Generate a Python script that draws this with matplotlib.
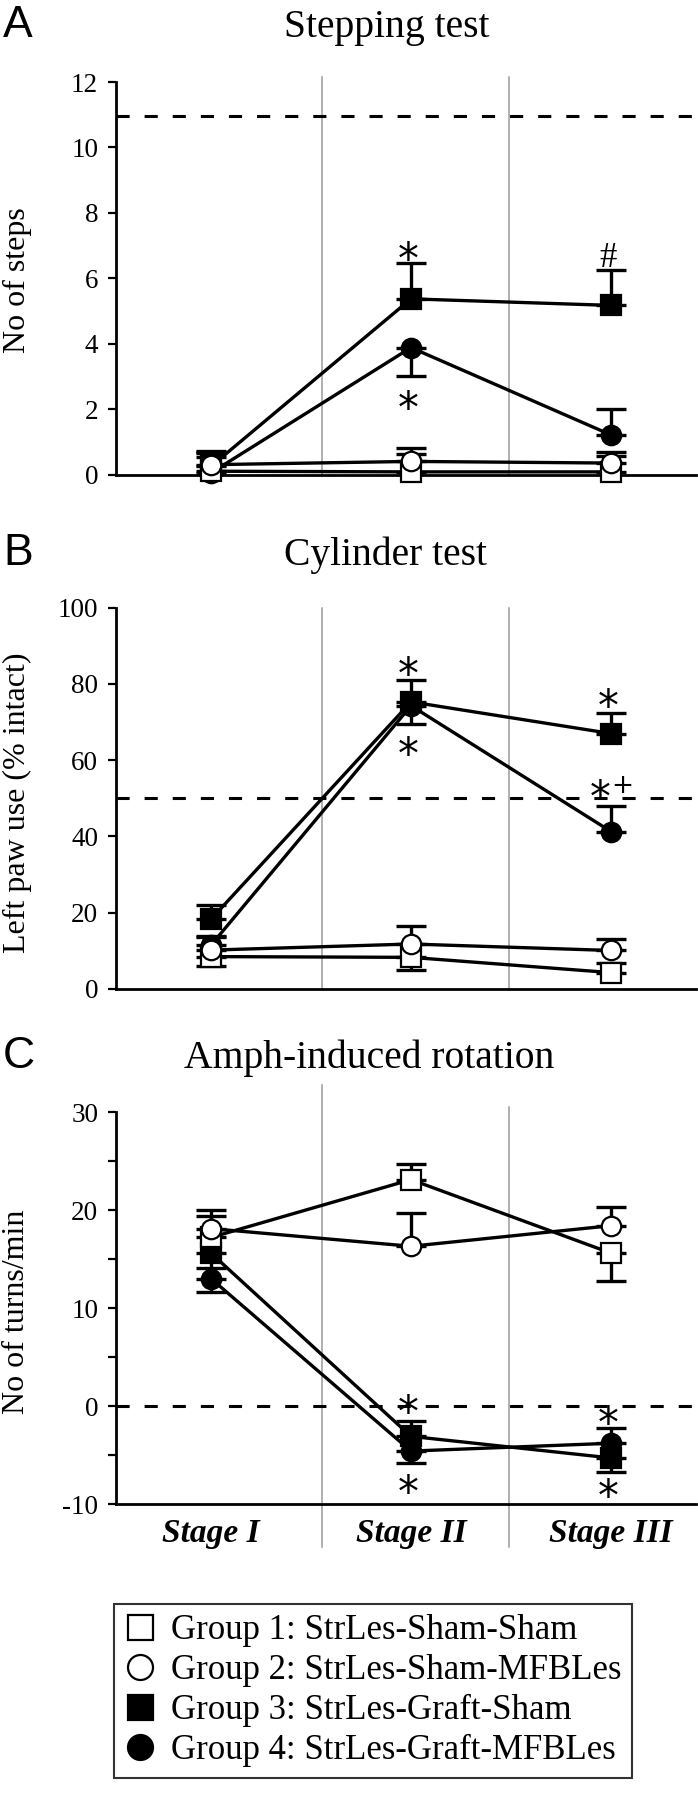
import numpy as np
import matplotlib.pyplot as plt
from matplotlib.lines import Line2D

plt.rcParams['font.family'] = 'Liberation Serif'
plt.rcParams['axes.unicode_minus'] = False

stages = ['Stage I', 'Stage II', 'Stage III']
groups = ['Group 1: StrLes-Sham-Sham', 'Group 2: StrLes-Sham-MFBLes',
          'Group 3: StrLes-Graft-Sham', 'Group 4: StrLes-Graft-MFBLes']

# A - stepping test, mean per stage; errors are one-sided (+ up, - down)
step_g1 = [0.10, 0.08, 0.08]
step_g2 = [0.30, 0.40, 0.35]
step_g3 = [0.25, 5.37, 5.17]
step_g4 = [0.05, 3.88, 1.21]
step_e1 = [0.55, 0.55, 0.50]
step_e2 = [0.43, 0.41, 0.35]
step_e3 = [0.45, 1.09, 1.09]
step_e4 = [0.50, -0.88, 0.79]

# B - cylinder test, left paw use (% intact)
cyl_g1 = [8.5, 8.3, 4.3]
cyl_g2 = [10.2, 11.8, 10.1]
cyl_g3 = [18.3, 75.3, 67.0]
cyl_g4 = [11.5, 74.3, 41.3]
cyl_e1 = [-2.4, -3.3, 2.6]
cyl_e2 = [3.5, 4.7, 3.0]
cyl_e3 = [3.7, 5.7, 5.5]
cyl_e4 = [2.5, -4.8, 6.7]

# C - amphetamine-induced rotation, turns/min
rot_g1 = [17.2, 23.1, 15.6]
rot_g2 = [18.1, 16.3, 18.4]
rot_g3 = [15.6, -3.1, -5.3]
rot_g4 = [13.0, -4.6, -3.8]
rot_e1 = [2.2, 1.6, -2.8]
rot_e2 = [1.9, 3.4, 1.9]
rot_e3 = [-1.5, 1.6, -1.4]
rot_e4 = [-1.35, -1.25, 1.6]

# normal / intact reference levels (dashed)
step_ref = 10.95
cyl_ref = 50
rot_ref = 0

W, H = 698, 1800
fig = plt.figure(figsize=(W / 100, H / 100), dpi=100)


def axes_px(top, bottom):
    return [116 / W, 1 - bottom / H, 580 / W, (bottom - top) / H]


ax_a = fig.add_axes(axes_px(82, 474.5))
ax_b = fig.add_axes(axes_px(607.7, 989))
ax_c = fig.add_axes(axes_px(1112, 1504))

x = np.arange(len(stages))
styles = [('s', 'white'), ('o', 'white'), ('s', 'black'), ('o', 'black')]
draw_order = [3, 2, 0, 1]  # filled first, open circles on top


def panel(ax, means, errs, ylim, yticks, ref_y, vlines):
    ax.set_xlim(-0.475, 2.425)
    ax.set_ylim(*ylim)
    for xv, (lo_, hi_) in zip((0.555, 1.49), vlines):
        ax.axvline(xv, lo_, hi_, color='#9a9a9a', lw=1.1, clip_on=False, zorder=1)
    ax.axhline(ref_y, color='k', lw=2.2, dashes=(4.3, 4.9), zorder=1.5)
    for k, i in enumerate(draw_order):
        m, fc = styles[i]
        y = np.array(means[i])
        e = np.array(errs[i])
        lo = np.where(e < 0, -e, 0)
        hi = np.where(e > 0, e, 0)
        ax.errorbar(x, y, yerr=[lo, hi], fmt='none', ecolor='k', elinewidth=2.4,
                    capsize=10.5, capthick=2.4, zorder=3 + k)
        ax.plot(x, y, color='k', lw=2.4, marker=m, ms=14, mfc=fc, mec='k',
                mew=1.6, zorder=3.5 + k, clip_on=False)
    ax.set_yticks(yticks)
    ax.spines['top'].set_visible(False)
    ax.spines['right'].set_visible(False)
    ax.spines['left'].set_linewidth(2)
    ax.spines['bottom'].set_linewidth(2)
    ax.tick_params(axis='y', which='both', direction='out', length=5.8, width=1.6,
                   labelsize=19.5, pad=7)
    ax.tick_params(axis='x', length=0)
    ax.patch.set_visible(False)


panel(ax_a, [step_g1, step_g2, step_g3, step_g4], [step_e1, step_e2, step_e3, step_e4],
      (0, 12), np.arange(0, 13, 2), step_ref, [(0, 1.013), (0, 1.013)])
panel(ax_b, [cyl_g1, cyl_g2, cyl_g3, cyl_g4], [cyl_e1, cyl_e2, cyl_e3, cyl_e4],
      (0, 100), np.arange(0, 101, 20), cyl_ref, [(0, 1), (0, 1)])
panel(ax_c, [rot_g1, rot_g2, rot_g3, rot_g4], [rot_e1, rot_e2, rot_e3, rot_e4],
      (-10, 30), np.arange(-10, 31, 10), rot_ref, [(-0.11, 1.069), (-0.11, 1.013)])
ax_c.set_yticks(np.arange(-10, 31, 5), minor=True)

ax_a.set_xticks([])
ax_b.set_xticks([])
ax_c.set_xticks(x)
ax_c.set_xticklabels(stages, fontsize=24, fontweight='bold', fontstyle='italic')
ax_c.tick_params(axis='x', pad=10)


def mark(ax, xi, yv, s, size=30, fam='DejaVu Sans', dy=-9):
    ax.annotate(s, (xi, yv), xytext=(0, dy), textcoords='offset points',
                ha='center', va='center', fontsize=size, family=fam,
                annotation_clip=False, zorder=10)


mark(ax_a, 0.985, 6.9, '*')
mark(ax_a, 0.985, 2.34, '*')
mark(ax_a, 1.985, 6.7, '#', size=25, fam='Liberation Serif', dy=-2.6)
mark(ax_b, 0.985, 85.4, '*')
mark(ax_b, 0.985, 64.4, '*')
mark(ax_b, 1.985, 77.1, '*')
mark(ax_b, 1.945, 53.1, '*')
mark(ax_b, 2.055, 54.0, '+', size=19, dy=-2)
mark(ax_c, 0.985, 0.45, '*')
mark(ax_c, 0.985, -7.7, '*')
mark(ax_c, 1.985, -0.7, '*')
mark(ax_c, 1.985, -8.1, '*')

# panel letters, titles, y labels
for letter, title, tx, base in [('A', 'Stepping test', 386.5, 37),
                                ('B', 'Cylinder test', 385, 565),
                                ('C', 'Amph-induced rotation', 369.5, 1068)]:
    fig.text(3 / W, 1 - base / H, letter, ha='left', va='baseline', fontsize=32,
             family='Liberation Sans')
    fig.text(tx / W, 1 - base / H, title, ha='center', va='baseline', fontsize=28.5)

for lab, cy in [('No of steps', 280), ('Left paw use (% intact)', 802.5),
                ('No of turns/min', 1311.7)]:
    fig.text(17 / W, 1 - cy / H, lab, rotation=90, ha='center', va='center', fontsize=23)

handles = [Line2D([], [], ls='none', marker=m, mfc=fc, mec='k', ms=18, mew=1.6)
           for m, fc in styles]
leg = fig.legend(handles, groups, loc='upper left', bbox_to_anchor=(113.5 / W, 1 - 1604 / H),
                 bbox_transform=fig.transFigure, borderaxespad=0, frameon=True,
                 fancybox=False, edgecolor='k', fontsize=25, borderpad=0.3,
                 handlelength=0.9, handletextpad=0.45, labelspacing=0.2)
leg.get_frame().set_linewidth(1.5)

fig.savefig('out.png', dpi=100)
